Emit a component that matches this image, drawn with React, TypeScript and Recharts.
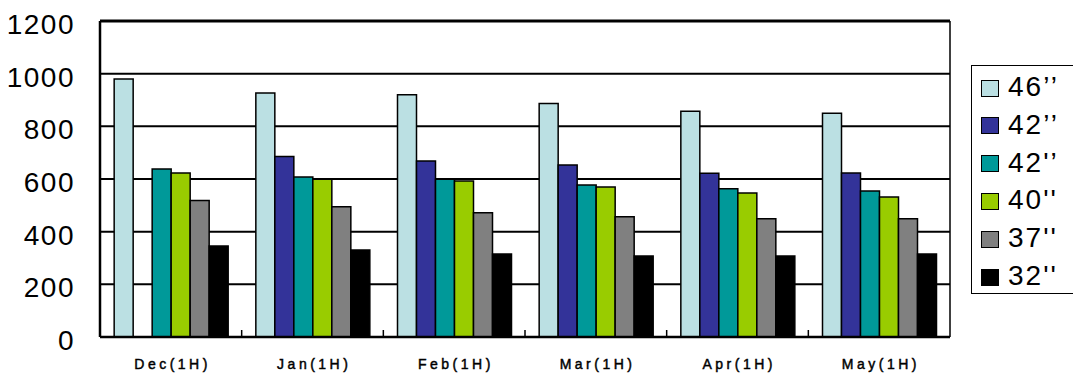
import React from 'react';
import { BarChart, Bar, XAxis, YAxis, CartesianGrid, ReferenceLine } from 'recharts';

// Shipment volume by panel size, first-half months
const periods = ['Dec(1H)', 'Jan(1H)', 'Feb(1H)', 'Mar(1H)', 'Apr(1H)', 'May(1H)'];
const size46 = [980, 927, 920, 887, 857, 850];
const size42a = [null, 685, 668, 653, 622, 623];
const size42b = [638, 608, 599, 577, 563, 554];
const size40 = [623, 599, 592, 570, 547, 532];
const size37 = [518, 495, 472, 457, 449, 449];
const size32 = [346, 330, 315, 308, 308, 315];

const yTicks = [0, 200, 400, 600, 800, 1000, 1200];
const seriesKeys = ['s46', 's42a', 's42b', 's40', 's37', 's32'];
const seriesNames = ['46\u2019\u2019', '42\u2019\u2019', "42'\u2019", "40''", "37''", "32''"];
const seriesColors = ['#BBE0E3', '#333399', '#009999', '#99CC00', '#808080', '#000000'];
const seriesValues = [size46, size42a, size42b, size40, size37, size32];

const rows = periods.map((period, i) => {
  const row: Record<string, string | number | null> = { period };
  seriesKeys.forEach((k, j) => {
    row[k] = seriesValues[j][i];
  });
  return row;
});

const FONT = '"Liberation Sans", Arial, sans-serif';
const CHART_W = 1073;
const CHART_H = 373;
const Y_AXIS_W = 100;
const FRAME_W = 2;
const MARGIN_RIGHT = 121;
const PLOT_W = CHART_W - Y_AXIS_W - FRAME_W - MARGIN_RIGHT;
const X_TICK_MARGIN = 22;

// Category label plus a short inward tick on the left boundary of each band
const CategoryTick = (props: any) => {
  const { x, y, payload } = props;
  const axisY = y - X_TICK_MARGIN;
  const half = PLOT_W / periods.length / 2;
  return (
    <g>
      <line x1={x - half} x2={x - half} y1={axisY} y2={axisY - 7} stroke="#000" strokeWidth={1.5} />
      <text
        x={x + 1.75}
        y={y + 5}
        textAnchor="middle"
        dominantBaseline="central"
        fontFamily={FONT}
        fontSize={14}
        letterSpacing={3.5}
        fill="#000"
        stroke="#000"
        strokeWidth={0.45}
      >
        {payload.value}
      </text>
    </g>
  );
};

const ValueTick = (props: any) => {
  const { x, y, payload } = props;
  return (
    <text
      x={x}
      y={y + 3.5}
      textAnchor="end"
      dominantBaseline="central"
      fontFamily={FONT}
      fontSize={28}
      letterSpacing={1.5}
      fill="#000"
    >
      {payload.value}
    </text>
  );
};

const SizeLegend = () => (
  <div
    style={{
      position: 'absolute',
      left: 971,
      top: 65,
      width: 130,
      height: 229,
      border: '1.5px solid #000',
      boxSizing: 'border-box',
      background: '#fff',
    }}
  >
    {seriesNames.map((name, i) => (
      <div
        key={name + i}
        style={{ position: 'absolute', left: 9, top: 13 + i * 37.8, height: 18, display: 'flex', alignItems: 'center' }}
      >
        <div
          style={{
            width: 18,
            height: 17,
            background: seriesColors[i],
            border: '1.5px solid #000',
            boxSizing: 'border-box',
          }}
        />
        <span
          style={{
            marginLeft: 9,
            fontFamily: FONT,
            fontSize: 28,
            lineHeight: '18px',
            letterSpacing: 2,
            color: '#000',
            whiteSpace: 'nowrap',
            position: 'relative',
            top: -1,
          }}
        >
          {name}
        </span>
      </div>
    ))}
  </div>
);

export default function App() {
  return (
    <div
      style={{
        position: 'absolute',
        left: 0,
        top: 0,
        width: CHART_W,
        height: CHART_H,
        overflow: 'hidden',
        background: '#fff',
      }}
    >
      <BarChart
        width={CHART_W}
        height={CHART_H}
        data={rows}
        margin={{ top: 21, right: MARGIN_RIGHT, bottom: 0, left: 0 }}
        barGap={0}
        barCategoryGap="10%"
      >
        <CartesianGrid horizontal vertical={false} stroke="#000" strokeWidth={2} />
        <XAxis
          dataKey="period"
          height={36}
          axisLine={{ stroke: '#000', strokeWidth: 2.5 }}
          tickLine={false}
          tickSize={0}
          tickMargin={X_TICK_MARGIN}
          tick={<CategoryTick />}
          interval={0}
        />
        <YAxis
          width={Y_AXIS_W}
          domain={[0, 1200]}
          ticks={yTicks}
          interval={0}
          axisLine={{ stroke: '#000', strokeWidth: 2.5 }}
          tickLine={false}
          tickSize={0}
          tickMargin={25}
          tick={<ValueTick />}
        />
        <YAxis
          yAxisId="frame"
          orientation="right"
          width={FRAME_W}
          domain={[0, 1200]}
          ticks={[0, 1200]}
          tick={false}
          tickLine={false}
          axisLine={{ stroke: '#000', strokeWidth: 1.5 }}
        />
        <ReferenceLine y={1200} stroke="#000" strokeWidth={3} />
        {seriesKeys.map((k, i) => (
          <Bar
            key={k}
            dataKey={k}
            name={seriesNames[i]}
            fill={seriesColors[i]}
            stroke="#000"
            strokeWidth={1.5}
            isAnimationActive={false}
          />
        ))}
      </BarChart>
      <SizeLegend />
    </div>
  );
}
